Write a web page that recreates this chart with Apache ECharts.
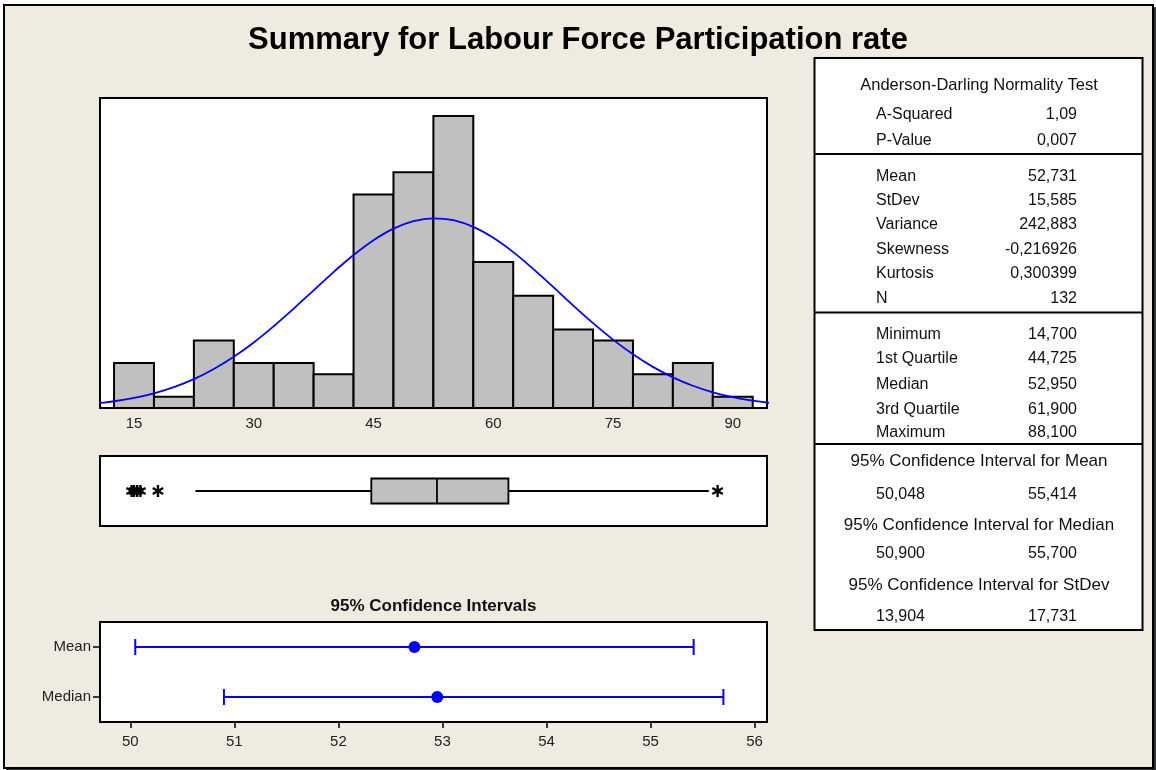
<!DOCTYPE html>
<html>
<head>
<meta charset="utf-8">
<script src="https://cdn.jsdelivr.net/npm/echarts@6/dist/echarts.min.js"></script>
<style>
  html, body { margin: 0; padding: 0; background: #fff; }
  #main { width: 1156px; height: 770px; }
</style>
</head>
<body>
<div id="main"></div>
<script>
// histogram bins (width 5) and counts, N = 132
var binEdges = [12.5, 17.5, 22.5, 27.5, 32.5, 37.5, 42.5, 47.5, 52.5, 57.5, 62.5, 67.5, 72.5, 77.5, 82.5, 87.5, 92.5];
var binCounts = [4, 1, 6, 4, 4, 3, 19, 21, 26, 13, 10, 7, 6, 3, 4, 1];

// fitted normal curve (in counts)
var curveX = [10, 12.5, 15, 17.5, 20, 22.5, 25, 27.5, 30, 32.5, 35, 37.5, 40, 42.5, 45, 47.5, 50, 52.5,
              55, 57.5, 60, 62.5, 65, 67.5, 70, 72.5, 75, 77.5, 80, 82.5, 85, 87.5, 90, 92.5, 95];
var curveY = [0.39, 0.60, 0.90, 1.31, 1.86, 2.57, 3.47, 4.56, 5.83, 7.28, 8.85, 10.48, 12.10, 13.62, 14.94, 15.97, 16.64, 16.89,
              16.72, 16.12, 15.15, 13.88, 12.39, 10.78, 9.14, 7.56, 6.09, 4.78, 3.66, 2.73, 1.98, 1.40, 0.97, 0.65, 0.43];
var histTicks = [15, 30, 45, 60, 75, 90];

// boxplot: whisker low, Q1, median, Q3, whisker high
var boxStats = [22.7, 44.725, 52.95, 61.9, 87.0];
var outliers = [14.7, 15.0, 15.4, 15.8, 18.0, 88.1];

// 95% confidence intervals
var ciNames = ['Mean', 'Median'];
var ciLow = [50.048, 50.9];
var ciHigh = [55.414, 55.7];
var ciCentre = [52.731, 52.95];
var ciTicks = [50, 51, 52, 53, 54, 55, 56];

// summary table
var adTitle = 'Anderson-Darling Normality Test';
var adRows = [['A-Squared', '1,09'], ['P-Value', '0,007']];
var momentRows = [['Mean', '52,731'], ['StDev', '15,585'], ['Variance', '242,883'],
                  ['Skewness', '-0,216926'], ['Kurtosis', '0,300399'], ['N', '132']];
var quartileRows = [['Minimum', '14,700'], ['1st Quartile', '44,725'], ['Median', '52,950'],
                    ['3rd Quartile', '61,900'], ['Maximum', '88,100']];
var ciRows = [['95% Confidence Interval for Mean', '50,048', '55,414'],
              ['95% Confidence Interval for Median', '50,900', '55,700'],
              ['95% Confidence Interval for StDev', '13,904', '17,731']];

var FONT = 'Liberation Sans';
var histMin = 10.74, histMax = 94.29;

var histData = [];
for (var i = 0; i < binCounts.length; i++) {
    histData.push([binEdges[i], binEdges[i + 1], binCounts[i]]);
}
var curveData = [];
for (var i = 0; i < curveX.length; i++) {
    curveData.push([curveX[i], curveY[i]]);
}
var outlierData = outliers.map(function (v) { return [v, 0]; });
var ciData = [], ciDots = [];
for (var i = 0; i < ciNames.length; i++) {
    ciData.push([i, ciLow[i], ciHigh[i]]);
    ciDots.push([ciCentre[i], i]);
}

// ---- table graphics ----
var tLeft = 814.5, tRight = 1142.5, tTop = 58, tBottom = 630;
var labelX = 876, valueX = 1077, centreX = 979;
var txt = function (x, y, s, align, size) {
    return {
        type: 'text', x: x, y: y, silent: true, z: 10,
        style: {
            text: s, fill: '#111', textAlign: align || 'left', textVerticalAlign: 'middle',
            font: (size || 16) + 'px "' + FONT + '"'
        }
    };
};
var hline = function (y) {
    return { type: 'line', z: 10, shape: { x1: tLeft, y1: y, x2: tRight, y2: y }, style: { stroke: '#000', lineWidth: 2 } };
};

var graphics = [
    { type: 'rect', z: -10, shape: { x: 6, y: 7, width: 1150, height: 763 }, style: { fill: '#333' } },
    { type: 'rect', z: -9, shape: { x: 4, y: 5, width: 1149, height: 763 }, style: { fill: '#EFEBE1', stroke: '#000', lineWidth: 2 } },
    { type: 'rect', z: 9, shape: { x: tLeft, y: tTop, width: tRight - tLeft, height: tBottom - tTop }, style: { fill: '#fff', stroke: '#000', lineWidth: 2 } },
    hline(154), hline(312.5), hline(444),
    {
        type: 'text', x: 578, y: 40, z: 10,
        style: { text: 'Summary for Labour Force Participation rate', fill: '#000', textAlign: 'center', textVerticalAlign: 'middle',
                 font: 'bold 31px "' + FONT + '"' }
    },
    {
        type: 'text', x: 433.5, y: 606, z: 10,
        style: { text: '95% Confidence Intervals', fill: '#111', textAlign: 'center', textVerticalAlign: 'middle',
                 font: 'bold 17px "' + FONT + '"' }
    },
    txt(centreX, 85, adTitle, 'center', 16.5)
];
var adY = [114.4, 140.7];
adRows.forEach(function (r, i) {
    graphics.push(txt(labelX, adY[i], r[0]), txt(valueX, adY[i], r[1], 'right'));
});
var momentY = [176.7, 200.3, 224.3, 250, 274, 298.3];
momentRows.forEach(function (r, i) {
    graphics.push(txt(labelX, momentY[i], r[0]), txt(valueX, momentY[i], r[1], 'right'));
});
var quartY = [334.3, 358.3, 385, 409.3, 432.7];
quartileRows.forEach(function (r, i) {
    graphics.push(txt(labelX, quartY[i], r[0]), txt(valueX, quartY[i], r[1], 'right'));
});
var ciHeadY = [461.7, 525, 585], ciValY = [494.3, 553.3, 616.7];
ciRows.forEach(function (r, i) {
    graphics.push(txt(centreX, ciHeadY[i], r[0], 'center', 17),
                  txt(labelX, ciValY[i], r[1]), txt(valueX, ciValY[i], r[2], 'right'));
});

var chart = echarts.init(document.getElementById('main'));
var gridStyle = { show: true, backgroundColor: '#fff', borderColor: '#000', borderWidth: 2, containLabel: false };
option = {
    backgroundColor: '#fff',
    animation: false,
    textStyle: { fontFamily: FONT },
    graphic: graphics,
    grid: [
        Object.assign({ left: 100, top: 98, width: 667, height: 310 }, gridStyle),
        Object.assign({ left: 100, top: 456, width: 667, height: 70 }, gridStyle),
        Object.assign({ left: 100, top: 622, width: 667, height: 100 }, gridStyle)
    ],
    xAxis: [
        {
            gridIndex: 0, type: 'value', min: histMin, max: histMax,
            splitLine: { show: false }, axisLine: { show: false },
            axisTick: { show: false },
            axisLabel: { customValues: histTicks, fontSize: 15, color: '#222', margin: 8 }
        },
        {
            gridIndex: 1, type: 'value', min: histMin, max: histMax, show: false
        },
        {
            gridIndex: 2, type: 'value', min: 49.709, max: 56.119,
            splitLine: { show: false },
            axisLine: { show: true, lineStyle: { color: '#000', width: 2 } },
            axisTick: { show: true, customValues: ciTicks, length: 6, lineStyle: { color: '#000', width: 1.5 } },
            axisLabel: { customValues: ciTicks, fontSize: 15, color: '#222', margin: 12 }
        }
    ],
    yAxis: [
        { gridIndex: 0, type: 'value', min: 0, max: 27.6, show: false },
        { gridIndex: 1, type: 'category', data: ['Labour Force Participation rate'], show: false },
        {
            gridIndex: 2, type: 'category', data: ciNames, inverse: true,
            axisLine: { show: true, lineStyle: { color: '#000', width: 2 } },
            axisTick: { show: true, alignWithLabel: true, length: 7, lineStyle: { color: '#000', width: 1.5 } },
            axisLabel: { fontSize: 15, color: '#222', margin: 9 }
        }
    ],
    series: [
        {
            type: 'custom', xAxisIndex: 0, yAxisIndex: 0,
            data: histData, encode: { x: [0, 1], y: 2 },
            renderItem: function (params, api) {
                var a = api.coord([api.value(0), api.value(2)]);
                var b = api.coord([api.value(1), 0]);
                return {
                    type: 'rect',
                    shape: { x: a[0], y: a[1], width: b[0] - a[0], height: b[1] - a[1] },
                    style: { fill: '#C0C0C0', stroke: '#000', lineWidth: 2 }
                };
            }
        },
        {
            type: 'line', xAxisIndex: 0, yAxisIndex: 0,
            data: curveData, smooth: 0.4, symbol: 'none', clip: true, z: 5,
            lineStyle: { color: '#0000FF', width: 1.8 }
        },
        {
            type: 'custom', xAxisIndex: 1, yAxisIndex: 1,
            data: [[0].concat(boxStats)], encode: { x: [1, 2, 3, 4, 5], y: 0 },
            renderItem: function (params, api) {
                var c = api.value(0);
                var y = api.coord([api.value(1), c])[1];
                var xs = [1, 2, 3, 4, 5].map(function (d) { return api.coord([api.value(d), c])[0]; });
                var h = 25;
                var st = { stroke: '#000', lineWidth: 1.8 };
                return {
                    type: 'group',
                    children: [
                        { type: 'line', shape: { x1: xs[0], y1: y, x2: xs[1], y2: y }, style: st },
                        { type: 'line', shape: { x1: xs[3], y1: y, x2: xs[4], y2: y }, style: st },
                        { type: 'rect', shape: { x: xs[1], y: y - h / 2, width: xs[3] - xs[1], height: h },
                          style: { fill: '#C0C0C0', stroke: '#000', lineWidth: 1.8 } },
                        { type: 'line', shape: { x1: xs[2], y1: y - h / 2, x2: xs[2], y2: y + h / 2 }, style: st }
                    ]
                };
            }
        },
        {
            type: 'custom', xAxisIndex: 1, yAxisIndex: 1,
            data: outlierData, encode: { x: 0, y: 1 },
            renderItem: function (params, api) {
                var p = api.coord([api.value(0), api.value(1)]);
                var r = 6, dx = r * 0.866, dy = r * 0.5;
                var st = { stroke: '#000', lineWidth: 2.4 };
                return {
                    type: 'group',
                    children: [
                        { type: 'line', shape: { x1: p[0], y1: p[1] - r, x2: p[0], y2: p[1] + r }, style: st },
                        { type: 'line', shape: { x1: p[0] - dx, y1: p[1] - dy, x2: p[0] + dx, y2: p[1] + dy }, style: st },
                        { type: 'line', shape: { x1: p[0] - dx, y1: p[1] + dy, x2: p[0] + dx, y2: p[1] - dy }, style: st }
                    ]
                };
            }
        },
        {
            type: 'custom', xAxisIndex: 2, yAxisIndex: 2,
            data: ciData, encode: { x: [1, 2], y: 0 },
            renderItem: function (params, api) {
                var c = api.value(0);
                var a = api.coord([api.value(1), c]);
                var b = api.coord([api.value(2), c]);
                var cap = 8;
                var st = { stroke: '#0000FF', lineWidth: 2 };
                return {
                    type: 'group',
                    children: [
                        { type: 'line', shape: { x1: a[0], y1: a[1], x2: b[0], y2: b[1] }, style: st },
                        { type: 'line', shape: { x1: a[0], y1: a[1] - cap, x2: a[0], y2: a[1] + cap }, style: st },
                        { type: 'line', shape: { x1: b[0], y1: b[1] - cap, x2: b[0], y2: b[1] + cap }, style: st }
                    ]
                };
            }
        },
        {
            type: 'scatter', xAxisIndex: 2, yAxisIndex: 2,
            data: ciDots, symbol: 'circle', symbolSize: 12, z: 6,
            itemStyle: { color: '#0000FF', opacity: 1 }
        }
    ]
};
chart.setOption(option);
</script>
</body>
</html>
